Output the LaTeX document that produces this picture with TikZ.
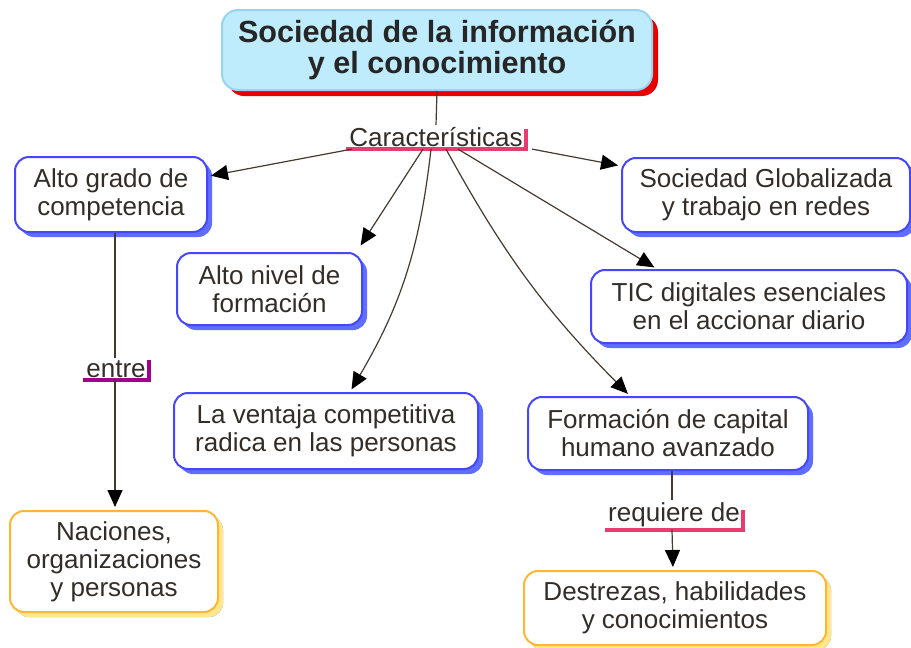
\documentclass[tikz,border=0pt]{standalone}
\usepackage{fontspec}
\setmainfont{Liberation Sans}
\usetikzlibrary{arrows.meta}
\usetikzlibrary{positioning}
\usetikzlibrary{shadows}
\definecolor{concept blue}{RGB}{70,70,250}
\definecolor{shadow blue}{RGB}{95,110,255}
\definecolor{concept orange}{RGB}{255,182,50}
\definecolor{shadow yellow}{RGB}{255,232,140}
\definecolor{title cyan}{RGB}{190,236,252}
\definecolor{title border}{RGB}{150,212,240}
\definecolor{title shadow}{RGB}{232,0,0}
\definecolor{mark pink}{RGB}{232,60,112}
\definecolor{mark purple}{RGB}{160,0,140}
\definecolor{line brown}{RGB}{70,58,45}
\definecolor{concept text}{RGB}{50,45,40}

\begin{document}
\begin{tikzpicture}[
					x=0.5pt, y=-0.5pt,
					concept box/.style={draw=concept blue, line width=1pt, fill=white, rounded corners=7pt, align=center, text=concept text, inner sep=0pt, font=\fontsize{13}{14}\selectfont, drop shadow={shadow xshift=2.5pt, shadow yshift=-2.5pt, fill=shadow blue, opacity=1}},
					goal box/.style={concept box, draw=concept orange, drop shadow={shadow xshift=2.5pt, shadow yshift=-2.5pt, fill=shadow yellow, opacity=1}},
					link label/.style={text=concept text, inner xsep=1.5pt, inner ysep=1pt, font=\fontsize{13}{14}\selectfont},
					link mark/.style={line width=2pt},
					connector/.style={draw=line brown, line width=0.6pt},
					arrow/.style={connector, -{Triangle[length=8.5pt, width=7.5pt, color=black]}, shorten >=1.5pt},
				]
					\useasboundingbox (0,0) rectangle (911,648);

					% main concept
					\node[draw=title border, line width=1pt, fill=title cyan, rounded corners=8pt, align=center, minimum width=215pt, minimum height=40pt, font=\fontsize{15.3}{15.8}\selectfont\bfseries, text=black!85, drop shadow={shadow xshift=3pt, shadow yshift=-3pt, fill=title shadow, opacity=1}] (soc) at (437,50) {Sociedad de la informaci\'on\\y el conocimiento};

					\node[link label] (car) at (436,137) {Caracter\'isticas};
					\draw[link mark, draw=mark pink] (car.south west) -- (car.south east) -- ++(0,-20);

					% characteristics
					\node[concept box, minimum width=96pt, minimum height=37.5pt] (grado) at (111,194.5) {Alto grado de\\competencia};
					\node[concept box, minimum width=92.5pt, minimum height=36pt] (nivel) at (269.5,289) {Alto nivel de\\formaci\'on};
					\node[concept box, minimum width=152pt, minimum height=38pt] (ventaja) at (326,431) {La ventaja competitiva\\radica en las personas};
					\node[concept box, minimum width=144pt, minimum height=37pt] (global) at (766,195) {Sociedad Globalizada\\y trabajo en redes};
					\node[concept box, minimum width=158pt, minimum height=36.5pt] (tic) at (749,306.5) {TIC digitales esenciales\\en el accionar diario};
					\node[concept box, minimum width=140pt, minimum height=36.5pt] (capital) at (668,433.5) {Formaci\'on de capital\\humano avanzado};

					\node[link label] (entre) at (116,369) {entre};
					\draw[link mark, draw=mark purple] (entre.south west) -- (entre.south east) -- ++(0,-20);
					\node[goal box, minimum width=104pt, minimum height=50.5pt] (naciones) at (114,561.5) {Naciones,\\organizaciones\\y personas};

					\node[link label] (req) at (674,515) {requiere de};
					\draw[link mark, draw=mark pink] (req.south west) -- (req.south east) -- ++(0,-20);
					\node[goal box, minimum width=151pt, minimum height=37pt] (destrezas) at (675,608) {Destrezas, habilidades\\y conocimientos};

					% connectors
					\draw[connector] (soc.south) -- (car.north);
					\draw[arrow] ([xshift=-42pt]car.south) -- (grado);
					\draw[arrow] ([xshift=-6.5pt]car.south) -- ([xshift=-2pt, yshift=2pt]nivel.north east);
					\draw[arrow] ([xshift=-2.5pt]car.south) to[bend left=12] ([xshift=12pt]ventaja.north);
					\draw[arrow] ([xshift=5pt]car.south) to[bend right=8] ([xshift=-19pt]capital.north);
					\draw[arrow] ([xshift=11pt]car.south) -- ([xshift=-46pt]tic.north);
					\draw[arrow] ([xshift=48pt]car.south) -- ([yshift=14.5pt]global.west);

					\draw[connector] ([xshift=-0.5pt]entre.north |- grado.south) -- ([xshift=-0.5pt]entre.north);
					\draw[arrow] ([xshift=-0.5pt]entre.south) -- ([xshift=-0.5pt]entre.south |- naciones.north);
					\draw[connector] ([xshift=2pt]capital.south) -- ([xshift=-1pt]req.north);
					\draw[arrow] ([xshift=-1pt]req.south) -- ([xshift=-1pt]destrezas.north);
				\end{tikzpicture}
\end{document}
